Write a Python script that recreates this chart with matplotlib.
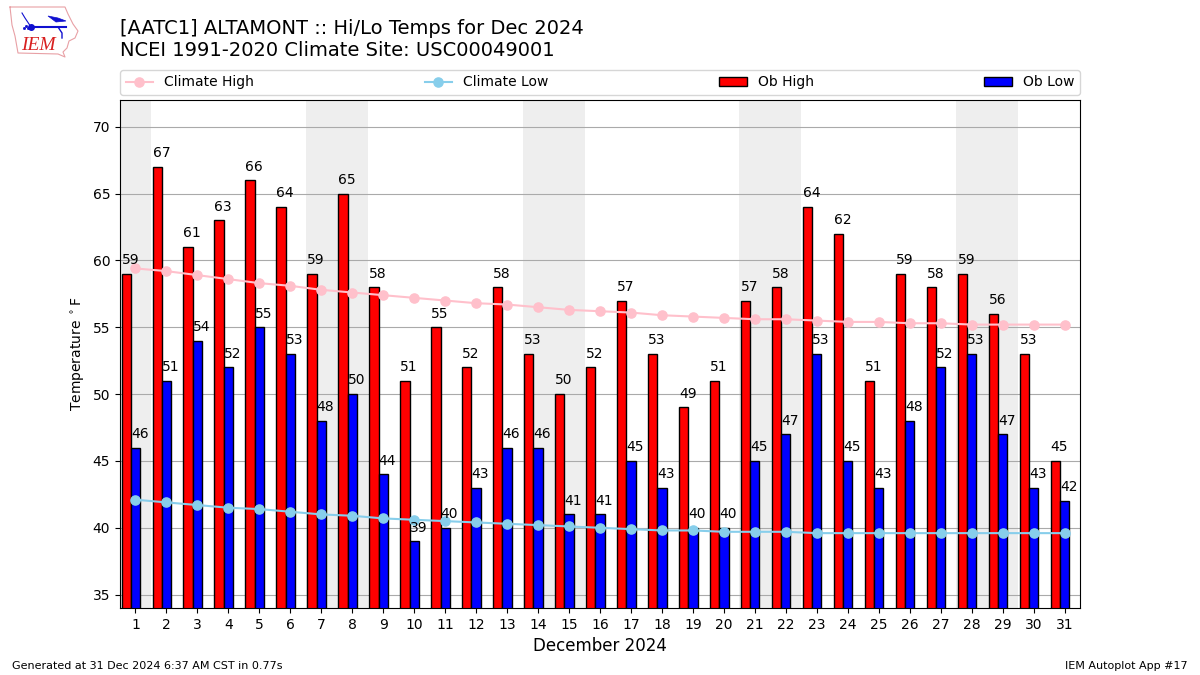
import matplotlib
matplotlib.use('Agg')
import matplotlib.pyplot as plt

days = list(range(1, 32))
ob_high = [59, 67, 61, 63, 66, 64, 59, 65, 58, 51, 55, 52, 58, 53, 50, 52, 57, 53, 49, 51, 57, 58, 64, 62, 51, 59, 58, 59, 56, 53, 45]
ob_low = [46, 51, 54, 52, 55, 53, 48, 50, 44, 39, 40, 43, 46, 46, 41, 41, 45, 43, 40, 40, 45, 47, 53, 45, 43, 48, 52, 53, 47, 43, 42]
clim_high = [59.4, 59.2, 58.9, 58.6, 58.3, 58.1, 57.8, 57.6, 57.4, 57.2, 57.0, 56.8, 56.7, 56.5, 56.3, 56.2,
             56.1, 55.9, 55.8, 55.7, 55.6, 55.6, 55.5, 55.4, 55.4, 55.3, 55.3, 55.2, 55.2, 55.2, 55.2]
clim_low = [42.1, 41.9, 41.7, 41.5, 41.4, 41.2, 41.0, 40.9, 40.7, 40.6, 40.5, 40.4, 40.3, 40.2, 40.1, 40.0,
            39.9, 39.8, 39.8, 39.7, 39.7, 39.7, 39.6, 39.6, 39.6, 39.6, 39.6, 39.6, 39.6, 39.6, 39.6]
weekends = [(0.5, 1.5), (6.5, 8.5), (13.5, 15.5), (20.5, 22.5), (27.5, 29.5)]

fig = plt.figure(figsize=(12, 6.75), dpi=100)

# logo, drawn in pixel coords
logo = fig.add_axes([0, 0, 1, 1])
logo.set_xlim(0, 1200)
logo.set_ylim(675, 0)
logo.axis('off')
iowa_x = [10, 65, 68, 73, 78, 75, 69, 67, 63, 65, 58, 18, 15, 12, 10]
iowa_y = [7, 7, 14, 24, 31, 38, 41, 48, 52, 57, 54, 53, 36, 25, 7]
logo.plot(iowa_x, iowa_y, color='#e8a0a5', lw=0.8)
logo.plot([31, 66], [27, 27], color='#1010d0', lw=1.5)
logo.plot([31], [27], 'o', color='#1010d0', ms=4)
logo.plot([22, 25, 31], [13, 18, 27], color='#1010d0', lw=0.8)
logo.fill([48, 58, 66, 56, 48], [16, 18, 21, 22, 16], color='#1010d0', lw=0.5)
logo.plot([58, 62, 62], [27, 33, 38], color='#1010d0', lw=1)
logo.plot([24, 26, 28], [28, 26, 28], 's', color='#1010d0', ms=1)
logo.text(21, 46, 'IEM', color='#d82020', family='Liberation Serif', style='italic', fontsize=14, ha='left', va='center')

ax = fig.add_axes([0.1, 67 / 675, 0.8, 508 / 675])
for start, end in weekends:
    ax.axvspan(start, end, color='#eeeeee', lw=0, zorder=0.1)

# low bar is centered on the day tick, high bar next to it on the left
ax.bar([d - 0.15 for d in days], ob_high, width=-0.3, align='edge', color='r', edgecolor='k', label='Ob High', zorder=2)
ax.bar(days, ob_low, width=0.3, color='b', edgecolor='k', label='Ob Low', zorder=2)

ax.plot(days, clim_high, '-o', color='pink', ms=6.6, label='Climate High', zorder=3)
ax.plot(days, clim_low, '-o', color='skyblue', ms=6.6, label='Climate Low', zorder=3)

for d, v in zip(days, ob_high):
    ax.text(d - 0.45, v + 0.72, str(v), ha='left', va='baseline', fontsize=10, zorder=4)
for d, v in zip(days, ob_low):
    ax.text(d - 0.15, v + 0.72, str(v), ha='left', va='baseline', fontsize=10, zorder=4)

ax.set_xlim(0.5, 31.5)
ax.set_ylim(34, 72)
ax.set_xticks(days)
ax.set_yticks([35, 40, 45, 50, 55, 60, 65, 70])
ax.set_axisbelow(True)
ax.grid(axis='y', color='#aaaaaa', lw=0.8)
ax.set_xlabel('December 2024', fontsize=12)
ax.set_ylabel(r'Temperature $^\circ$F')

handles, labels = ax.get_legend_handles_labels()
order = [labels.index(n) for n in ['Climate High', 'Climate Low', 'Ob High', 'Ob Low']]
ax.legend([handles[i] for i in order], [labels[i] for i in order], ncol=4, mode='expand',
          loc='lower left', bbox_to_anchor=(0, 1.01, 1, 0.05), borderaxespad=0, fontsize=10)

fig.text(120 / 1200, 1 - 29 / 675, '[AATC1] ALTAMONT :: Hi/Lo Temps for Dec 2024', fontsize=14, va='center')
fig.text(120 / 1200, 1 - 50 / 675, 'NCEI 1991-2020 Climate Site: USC00049001', fontsize=14, va='center')
fig.text(12 / 1200, 1 - 666 / 675, 'Generated at 31 Dec 2024 6:37 AM CST in 0.77s', fontsize=8, va='center')
fig.text(1188 / 1200, 1 - 666 / 675, 'IEM Autoplot App #17', fontsize=8, va='center', ha='right')

fig.savefig('out.png', dpi=100)
